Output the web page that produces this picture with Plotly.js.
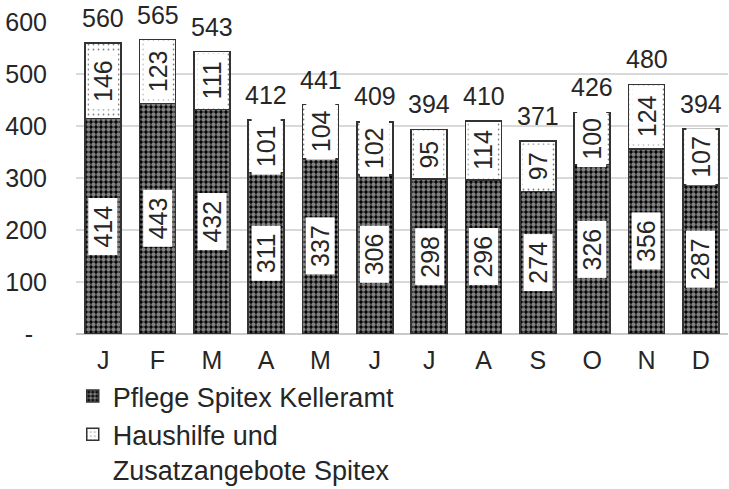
<!DOCTYPE html>
<html>
<head>
<meta charset="utf-8">
<script src="https://cdn.plot.ly/plotly-3.0.1.min.js"></script>
<style>html,body{margin:0;padding:0;background:#fff;}#chart{width:729px;height:489px;}</style>
</head>
<body>
<div id="chart"></div>
<script>
const months = ["J","F","M","A","M","J","J","A","S","O","N","D"];
const pflege = [414,443,432,311,337,306,298,296,274,326,356,287];
const haushilfe = [146,123,111,101,104,102,95,114,97,100,124,107];
const totals = [560,565,543,412,441,409,394,410,371,426,480,394];
const yTickVals = [0,100,200,300,400,500,600];
const yTickText = ["-\u00a0\u00a0","100","200","300","400","500","600"];
const seriesNames = ["Pflege Spitex Kelleramt","Haushilfe und<br>Zusatzangebote Spitex"];

const xs = months.map((m,i)=>i);
const font = "Liberation Sans, Arial, sans-serif";
const FS = 25;
const txtColor = "#262626";
const NB = "\u00a0";

const traces = [
  {type:"bar", x:xs, y:pflege, name:seriesNames[0],
   marker:{color:"#000", line:{color:"#333",width:1.5},
     pattern:{shape:".", bgcolor:"#000", fgcolor:"#fff", size:5, solidity:0.6, fillmode:"overlay"}},
   hoverinfo:"none"},
  {type:"bar", x:xs, y:haushilfe, name:seriesNames[1],
   marker:{color:"#fff", line:{color:"#333",width:1.5},
     pattern:{shape:".", bgcolor:"#fff", fgcolor:"#000", size:5, solidity:0.1, fillmode:"overlay"}},
   hoverinfo:"none"}
];

const annotations = [];
xs.forEach((x,i)=>{
  annotations.push({x:x, y:pflege[i]/2, xref:"x", yref:"y", text:NB+pflege[i]+NB, showarrow:false,
    textangle:-90, bgcolor:"#fff", borderpad:0, font:{family:font,size:FS,color:txtColor}});
  annotations.push({x:x, y:pflege[i]+haushilfe[i]/2, xref:"x", yref:"y", text:NB+haushilfe[i]+NB, showarrow:false,
    textangle:-90, bgcolor:"#fff", borderpad:0, font:{family:font,size:FS,color:txtColor}});
  annotations.push({x:x, y:totals[i], xref:"x", yref:"y", text:String(totals[i]), showarrow:false,
    yanchor:"bottom", yshift:9, font:{family:font,size:FS,color:txtColor}});
});

const layout = {
  width:729, height:489,
  margin:{l:76, r:1, t:22, b:155, autoexpand:false},
  paper_bgcolor:"#fff", plot_bgcolor:"#fff",
  barmode:"stack", bargap:0.34,
  font:{family:font, size:FS, color:txtColor},
  showlegend:true,
  legend:{orientation:"v", x:-0.005, xanchor:"left", y:-0.122, yanchor:"top", valign:"top",
    font:{family:font,size:27,color:txtColor}, itemwidth:30, tracegroupgap:0, traceorder:"normal",
    bgcolor:"rgba(0,0,0,0)"},
  xaxis:{tickmode:"array", tickvals:xs, ticktext:months, showgrid:false, zeroline:false,
    showline:false, ticks:"", range:[-0.5,11.5], ticklabelstandoff:9, tickfont:{family:font,size:FS,color:txtColor}},
  yaxis:{range:[0,600], tickmode:"array", tickvals:yTickVals, ticktext:yTickText,
    showgrid:true, gridcolor:"#d9d9d9", gridwidth:1.5, zeroline:true, zerolinecolor:"#c8c8c8", zerolinewidth:1.5,
    ticks:"", ticklabelstandoff:28, tickfont:{family:font,size:FS,color:txtColor}},
  annotations:annotations
};

Plotly.newPlot("chart", traces, layout, {displayModeBar:false, staticPlot:true});
</script>
</body>
</html>
